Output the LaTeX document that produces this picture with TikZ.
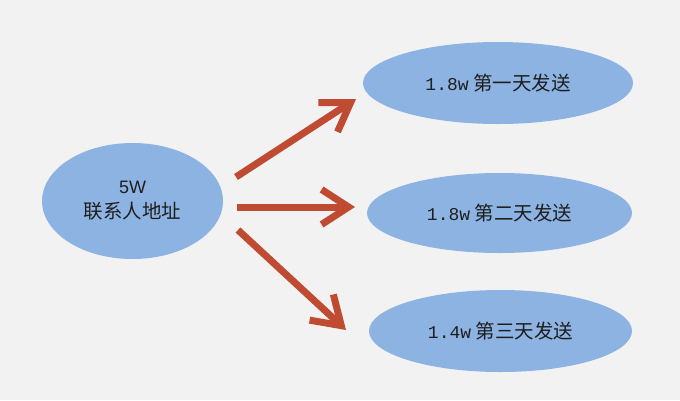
\documentclass[tikz,border=0pt]{standalone}
\usepackage{fontspec}
\usetikzlibrary{arrows.meta,shapes.geometric}
\newfontfamily\cjk{Noto Sans CJK SC}
\newfontfamily\monof{Liberation Mono}
\newfontfamily\sansf{Liberation Sans}
\definecolor{bgc}{RGB}{242,242,242}
\definecolor{ellc}{RGB}{141,179,226}
\definecolor{arrc}{RGB}{190,75,50}
\definecolor{txtc}{RGB}{30,30,30}
\newcommand{\latn}[1]{{\monof\fontsize{18}{23}\selectfont #1}}
\tikzset{
  blob/.style={ellipse, fill=ellc, draw=none, inner sep=0pt, text=txtc, font=\cjk\fontsize{19.5}{24}\selectfont, align=center},
  bigarrow/.style={draw=arrc, line width=7pt, -{Straight Barb[length=27pt, width=35pt, sharp]}}
}
\begin{document}
\begin{tikzpicture}[x=1pt,y=-1pt]
\fill[bgc] (0,0) rectangle (680,400);
\useasboundingbox (0,0) rectangle (680,400);
\node[blob, minimum width=181pt, minimum height=116pt] (L) at (132.5,201) {{\sansf\fontsize{18}{23}\selectfont 5W}\\[1pt]联系人地址};
\node[blob, minimum width=270pt, minimum height=82pt] (R1) at (498,83) {\latn{1.8w} 第一天发送};
\node[blob, minimum width=265pt, minimum height=80pt] (R2) at (499.5,213) {\latn{1.8w} 第二天发送};
\node[blob, minimum width=263pt, minimum height=82pt] (R3) at (500.5,331) {\latn{1.4w} 第三天发送};
\coordinate (s1) at (236,177);
\coordinate (t1) at (356,99);
\coordinate (s2) at (237,207);
\coordinate (t2) at (355,207);
\coordinate (s3) at (238,230);
\coordinate (t3) at (346,330);
\draw[bigarrow] (s1) -- (t1);
\draw[bigarrow] (s2) -- (t2);
\draw[bigarrow] (s3) -- (t3);
\end{tikzpicture}
\end{document}
